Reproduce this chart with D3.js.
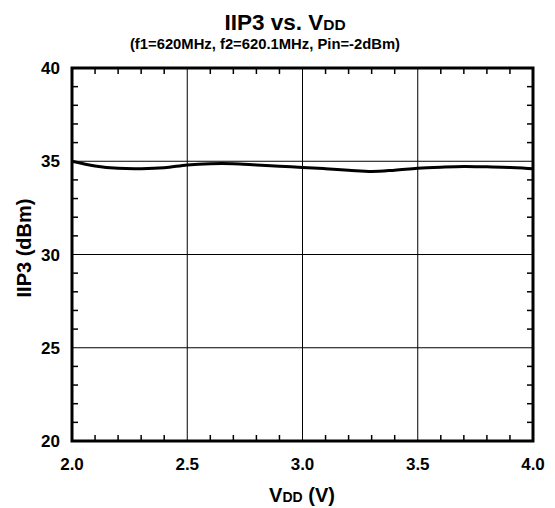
<!DOCTYPE html>
<html><head><meta charset="utf-8">
<script src="https://cdn.jsdelivr.net/npm/d3@7"></script>
<style>body{margin:0;background:#fff}svg{display:block;font-family:"Liberation Sans",Arial,sans-serif;font-weight:bold}</style>
</head><body>
<script>
const vdd = [2.0,2.1,2.2,2.3,2.4,2.5,2.6,2.7,2.8,2.9,3.0,3.1,3.2,3.3,3.4,3.5,3.6,3.7,3.8,3.9,4.0];
const iip3 = [35.0,34.75,34.62,34.6,34.65,34.8,34.87,34.87,34.8,34.73,34.67,34.6,34.52,34.45,34.52,34.62,34.68,34.72,34.7,34.67,34.6];
const xTicks = [2.0,2.5,3.0,3.5,4.0];
const yTicks = [20,25,30,35,40];

const W=555,H=508, L=72, R=533, T=68, B=441;
const svg=d3.select("body").append("svg").attr("width",W).attr("height",H);
const x=d3.scaleLinear().domain([2,4]).range([L,R]);
const y=d3.scaleLinear().domain([20,40]).range([B,T]);

// gridlines
svg.append("g").selectAll("line").data(xTicks.slice(1,-1)).join("line")
 .attr("x1",d=>x(d)).attr("x2",d=>x(d)).attr("y1",T).attr("y2",B).attr("stroke","#000").attr("stroke-width",1);
svg.append("g").selectAll("line").data(yTicks.slice(1,-1)).join("line")
 .attr("y1",d=>y(d)).attr("y2",d=>y(d)).attr("x1",L).attr("x2",R).attr("stroke","#000").attr("stroke-width",1);

// minor ticks
const xm=d3.range(2.1,4.0,0.1).filter(v=>Math.abs(v*2-Math.round(v*2))>0.01);
const ym=d3.range(21,40,1).filter(v=>v%5!==0);
const tl=6;
const tg=svg.append("g").attr("stroke","#000").attr("stroke-width",1.5);
xm.forEach(v=>{
 tg.append("line").attr("x1",x(v)).attr("x2",x(v)).attr("y1",B).attr("y2",B-tl);
 tg.append("line").attr("x1",x(v)).attr("x2",x(v)).attr("y1",T).attr("y2",T+tl);
});
ym.forEach(v=>{
 tg.append("line").attr("y1",y(v)).attr("y2",y(v)).attr("x1",L).attr("x2",L+tl);
 tg.append("line").attr("y1",y(v)).attr("y2",y(v)).attr("x1",R).attr("x2",R-tl);
});

// curve
svg.append("path").datum(vdd.map((v,i)=>[v,iip3[i]]))
 .attr("d",d3.line().x(d=>x(d[0])).y(d=>y(d[1])).curve(d3.curveCatmullRom))
 .attr("fill","none").attr("stroke","#000").attr("stroke-width",3);

// frame
svg.append("rect").attr("x",L).attr("y",T).attr("width",R-L).attr("height",B-T)
 .attr("fill","none").attr("stroke","#000").attr("stroke-width",3);

// tick labels
svg.append("g").selectAll("text").data(xTicks).join("text")
 .attr("x",d=>x(d)).attr("y",470).attr("text-anchor","middle").attr("font-size",17).text(d=>d.toFixed(1));
svg.append("g").selectAll("text").data(yTicks).join("text")
 .attr("x",60).attr("y",d=>y(d)+6).attr("text-anchor","end").attr("font-size",17).text(d=>d);

// titles
const t=svg.append("text").attr("x",285).attr("y",30).attr("text-anchor","middle").attr("font-size",22.5);
t.append("tspan").text("IIP3 vs. V");
t.append("tspan").attr("font-size",15.5).text("DD");
svg.append("text").attr("x",265).attr("y",49).attr("text-anchor","middle").attr("font-size",14.8)
 .text("(f1=620MHz, f2=620.1MHz, Pin=-2dBm)");

const xl=svg.append("text").attr("x",302).attr("y",502).attr("text-anchor","middle").attr("font-size",20);
xl.append("tspan").text("V");
xl.append("tspan").attr("font-size",14).text("DD");
xl.append("tspan").text(" (V)");

svg.append("text").attr("transform","translate(31,248) rotate(-90)").attr("text-anchor","middle")
 .attr("font-size",20).text("IIP3 (dBm)");
</script>
</body></html>
